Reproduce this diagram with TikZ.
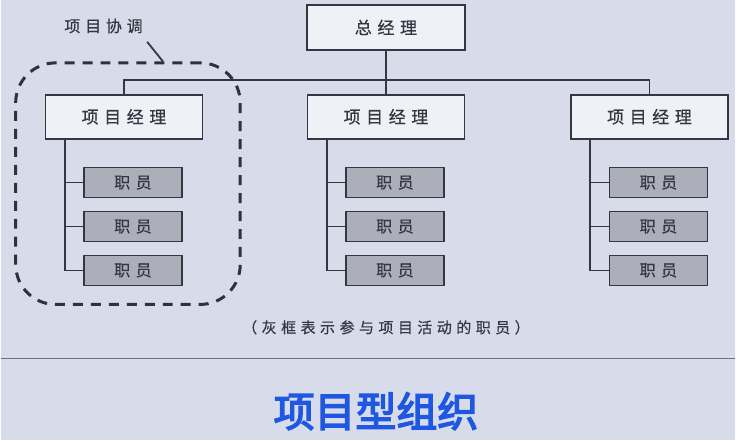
\documentclass[tikz,border=0pt]{standalone}
\usepackage{fontspec}
\setmainfont{Noto Sans CJK SC}
\newfontfamily\cjk[LetterSpace=33, FakeBold=0.6]{Noto Sans CJK SC}
\newfontfamily\cjkstaff[LetterSpace=35, FakeBold=0.6]{Noto Sans CJK SC}
\newfontfamily\cjknota[LetterSpace=30, FakeBold=0.5]{Noto Sans CJK SC}
\newfontfamily\cjktitolo[FakeBold=3.5]{Noto Sans CJK SC}
\usetikzlibrary{positioning}
\definecolor{sfondo}{RGB}{216,219,233}
\definecolor{grigiobox}{RGB}{172,175,186}
\definecolor{tratto}{RGB}{52,54,66}
\definecolor{blutitolo}{RGB}{30,88,226}

\begin{document}
\begin{tikzpicture}[x=1pt, y=-1pt,
  font=\cjk\fontsize{17}{20}\selectfont,
  bianco/.style={draw=tratto, fill=sfondo!40!white, line width=1.6pt,
                 minimum width=157, minimum height=44, inner sep=0pt, text=tratto},
  grigio/.style={draw=tratto, fill=grigiobox, line width=1.6pt,
                 minimum width=98, minimum height=30, inner sep=0pt, text=tratto,
                 font=\cjkstaff\fontsize{16}{19}\selectfont},
  linea/.style={draw=tratto, line width=1.6pt},
  gruppo/.style={draw=tratto!90!black, line width=3pt, rounded corners=40pt,
                 dash pattern=on 10pt off 8pt, minimum width=225, minimum height=242,
                 inner sep=0pt}
]

%--------------------------------------------------------------
% Sfondo
%--------------------------------------------------------------
\fill[sfondo] (0,0) rectangle (736,441);
\draw[draw=tratto!70, line width=1.4pt] (0,359) -- (736,359);

%--------------------------------------------------------------
% Vertice
%--------------------------------------------------------------
\node[bianco, minimum width=158, minimum height=45] (zong) at (386,27.5) {总经理};
\coordinate (bus) at (386,80);

%--------------------------------------------------------------
% Project manager e staff
%--------------------------------------------------------------
\foreach \n/\x in {1/123.5, 2/386, 3/650}{
  \node[bianco] (jingli\n) at (\x,117) {项目经理};
  \foreach \m/\y in {1/183, 2/227, 3/271}{
    \node[grigio] (zhiyuan\n\m) at (\x+9,\y) {职员};
    \draw[linea] ([xshift=20pt]jingli\n.south west) |- (zhiyuan\n\m.west);
  }
}

\draw[linea] (zong.south) -- (jingli2.north);
\draw[linea] (jingli1.north) |- (bus) -| (jingli3.north);

%--------------------------------------------------------------
% Coordinamento di progetto
%--------------------------------------------------------------
\node[gruppo] (coord) at (127.5,184) {};
\node[text=tratto, font=\cjknota\fontsize{16}{19}\selectfont] (xietiao) at (103,26) {项目协调};
\draw[linea, line width=1.8pt] ([shift={(1,5)}]xietiao.south east) -- ([xshift=35pt]coord.north);

%--------------------------------------------------------------
% Nota e titolo
%--------------------------------------------------------------
\node[text=tratto, font=\cjknota\fontsize{15}{18}\selectfont] (nota) at (386,328)
  {（灰框表示参与项目活动的职员）};
\node[text=blutitolo, font=\cjktitolo\fontsize{41}{48}\selectfont] (titolo) at (376,412)
  {项目型组织};

\end{tikzpicture}
\end{document}
